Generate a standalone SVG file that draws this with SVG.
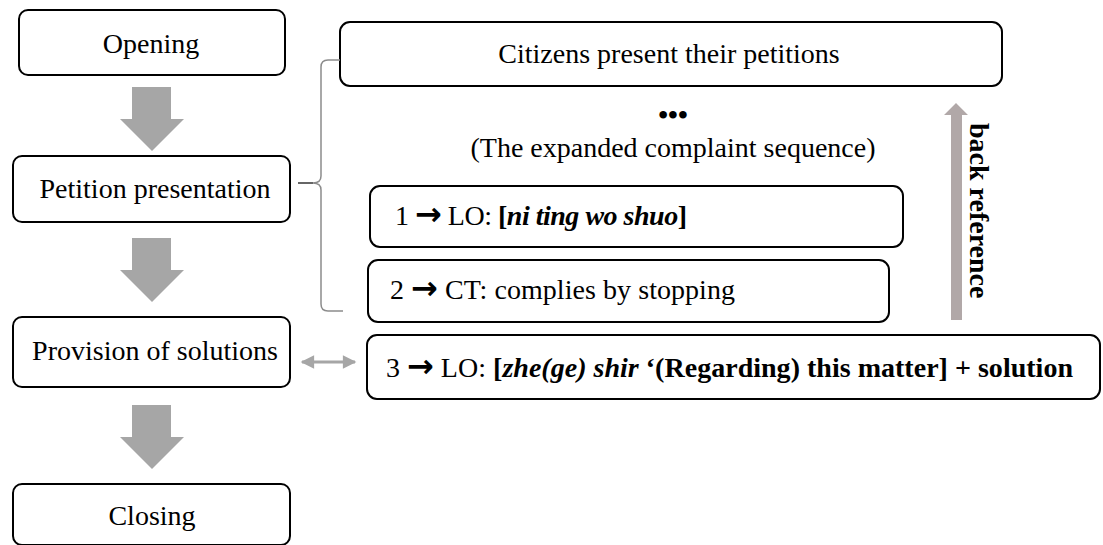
<svg xmlns="http://www.w3.org/2000/svg" width="1103" height="545" viewBox="0 0 1103 545">
  <style>
    .box { fill: #ffffff; stroke: #000000; stroke-width: 2; }
    .lbl { font-family: "Liberation Serif", "Times New Roman", serif; font-size: 28px; fill: #000000; }
    .mid { text-anchor: middle; }
    .b { font-weight: bold; }
    .bi { font-weight: bold; font-style: italic; }
    .arr { font-family: "DejaVu Sans", sans-serif; font-weight: bold; font-size: 32px; }
    .flow { fill: #a6a6a6; }
    .brace { fill: none; stroke: #8c8c8c; stroke-width: 1.5; }
  </style>
  <defs>
    <marker id="dh" viewBox="0 0 10 10" refX="9" refY="5" markerWidth="5" markerHeight="4.5" orient="auto-start-reverse" markerUnits="strokeWidth">
      <path d="M0 0 L10 5 L0 10 z" fill="#a6a6a6"/>
    </marker>
  </defs>

  <!-- main phases -->
  <g id="opening">
    <rect class="box" x="19" y="10" width="266" height="65" rx="9"/>
    <text class="lbl mid" x="151" y="53">Opening</text>
  </g>
  <g id="petition-presentation">
    <rect class="box" x="13" y="156" width="277" height="66" rx="9"/>
    <text class="lbl mid" x="155" y="198">Petition presentation</text>
  </g>
  <g id="provision">
    <rect class="box" x="13" y="317" width="277" height="70" rx="9"/>
    <text class="lbl mid" x="155" y="360">Provision of solutions</text>
  </g>
  <g id="closing">
    <rect class="box" x="13" y="484" width="277" height="61" rx="9"/>
    <text class="lbl mid" x="152" y="525">Closing</text>
  </g>

  <!-- expanded sequence -->
  <g id="citizens">
    <rect class="box" x="340" y="22" width="662" height="64" rx="10"/>
    <text class="lbl mid" x="669" y="63">Citizens present their petitions</text>
  </g>
  <g id="ellipsis">
    <text class="lbl mid b" x="673" y="124">•••</text>
    <text class="lbl mid" x="673" y="157">(The expanded complaint sequence)</text>
  </g>
  <g id="step1">
    <rect class="box" x="370" y="186" width="533" height="61" rx="10"/>
    <text class="lbl" x="395" y="225" textLength="292" lengthAdjust="spacing">1 <tspan class="arr">→</tspan> LO: <tspan class="b">[</tspan><tspan class="bi">ni ting wo shuo</tspan><tspan class="b">]</tspan></text>
  </g>
  <g id="step2">
    <rect class="box" x="368" y="260" width="521" height="62" rx="10"/>
    <text class="lbl" x="390" y="299" textLength="345" lengthAdjust="spacing">2 <tspan class="arr">→</tspan> CT: complies by stopping</text>
  </g>
  <g id="step3">
    <rect class="box" x="367" y="335" width="733" height="64" rx="10"/>
    <text class="lbl" x="386" y="377" textLength="687" lengthAdjust="spacing">3 <tspan class="arr">→</tspan> LO: <tspan class="b">[</tspan><tspan class="bi">zhe(ge) shir</tspan><tspan class="b"> ‘(Regarding) this matter] + solution</tspan></text>
  </g>
  <g id="back-reference">
    <path d="M951 320 V115 H944 L956 103 L968 115 H962 V320 Z" fill="#b1a8a8"/>
    <text class="lbl b" transform="translate(970 123) rotate(90)" x="0" y="0">back reference</text>
  </g>

  <!-- connectors -->
  <g id="connectors">
    <path class="flow" d="M132 87 H171 V119 H184 L152 151 L120 119 H132 Z"/>
    <path class="flow" d="M132 238 H171 V270 H184 L152 302 L120 270 H132 Z"/>
    <path class="flow" d="M132 405 H171 V437 H184 L152 469 L120 437 H132 Z"/>
    <line x1="302" y1="362" x2="355" y2="362" stroke="#a6a6a6" stroke-width="3" marker-start="url(#dh)" marker-end="url(#dh)"/>
    <path class="brace" d="M340 60 H328 Q321 60 321 67 V176 Q321 183 313 183 Q321 183 321 190 V304 Q321 311 328 311 H343"/>
    <line x1="298" y1="183" x2="313" y2="183" stroke="#333333" stroke-width="1.5"/>
  </g>
</svg>
